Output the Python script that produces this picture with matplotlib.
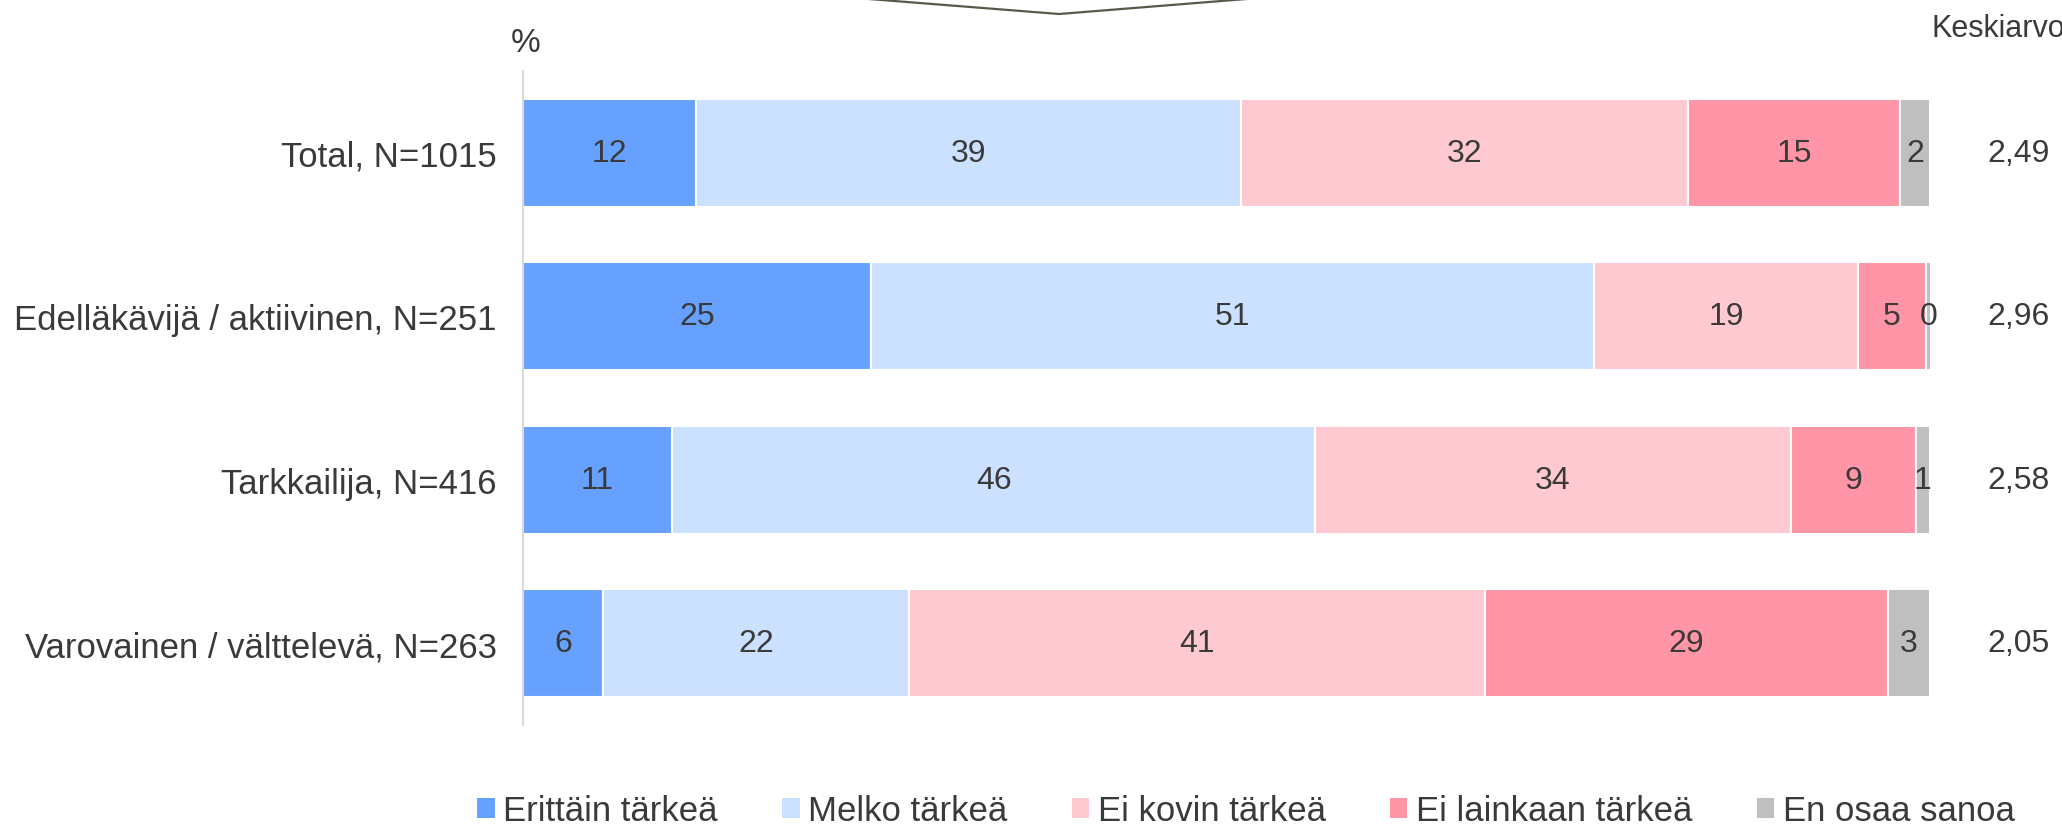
import numpy as np
import matplotlib.pyplot as plt
from matplotlib.lines import Line2D
from matplotlib.patches import Patch

plt.rcParams['font.family'] = ['Liberation Sans', 'DejaVu Sans']

# Daten
groups = ['Total, N=1015', 'Edelläkävijä / aktiivinen, N=251',
          'Tarkkailija, N=416', 'Varovainen / välttelevä, N=263']
categories = ['Erittäin tärkeä', 'Melko tärkeä', 'Ei kovin tärkeä',
              'Ei lainkaan tärkeä', 'En osaa sanoa']
erittain = [12.3, 24.7, 10.6, 5.7]
melko = [38.7, 51.4, 45.7, 21.7]
ei_kovin = [31.8, 18.8, 33.8, 41.0]
ei_lainkaan = [15.1, 4.8, 8.9, 28.6]
en_osaa = [2.1, 0.4, 1.0, 3.0]
keskiarvo = ['2,49', '2,96', '2,58', '2,05']

colors = ['#66a1ff', '#cce0ff', '#ffc9d2', '#ff95a6', '#bfbfbf']
txt = '#3a3a3a'

series = [erittain, melko, ei_kovin, ei_lainkaan, en_osaa]

fig = plt.figure(figsize=(20.62, 8.29), dpi=100)
ax = fig.add_axes([523/2062, 1-726/829, 1407/2062, 654/829])

y = np.arange(len(groups))
left = np.zeros(len(groups))
for vals, col in zip(series, colors):
    vals = np.array(vals)
    ax.barh(y, vals, left=left, height=0.66, color=col,
            edgecolor='white', linewidth=1.5)
    for yi, l, v in zip(y, left, vals):
        ax.text(l + v/2, yi, f'{v:.0f}', ha='center', va='center',
                fontsize=23, color=txt)
    left = left + vals

for yi, m in zip(y, keskiarvo):
    ax.text(106.3, yi, m, ha='center', va='center', fontsize=23,
            color=txt, clip_on=False)

ax.set_xlim(0, 100)
ax.set_ylim(3.5, -0.5)
ax.set_yticks(y)
ax.set_yticklabels(groups, fontsize=25, color=txt)
ax.tick_params(axis='y', length=0, pad=19)
ax.set_xticks([])
for s in ['top', 'right', 'bottom']:
    ax.spines[s].set_visible(False)
ax.spines['left'].set_color('#d9d9d9')
ax.spines['left'].set_linewidth(1.5)

fig.text(526/2062, 1-44/829, '%', ha='center', va='center',
         fontsize=24, color=txt)
fig.text(1931/2062, 1-29/829, 'Keskiarvo', ha='left', va='center',
         fontsize=22, color=txt)

# Linie oben
fig.add_artist(Line2D([850/2062, 1059/2062, 1265/2062],
                      [1+1.5/829, 1-15/829, 1+1.5/829],
                      color='#595948', linewidth=1.6))

handles = [Patch(facecolor=c, edgecolor='none') for c in colors]
fig.legend(handles, categories, loc='center', ncol=5,
           bbox_to_anchor=(1246/2062, 1-812/829), frameon=False,
           fontsize=25, handlelength=0.5, handleheight=0.5,
           handletextpad=0.25, columnspacing=1.85, labelcolor=txt)

fig.savefig('out.png', dpi=100)
